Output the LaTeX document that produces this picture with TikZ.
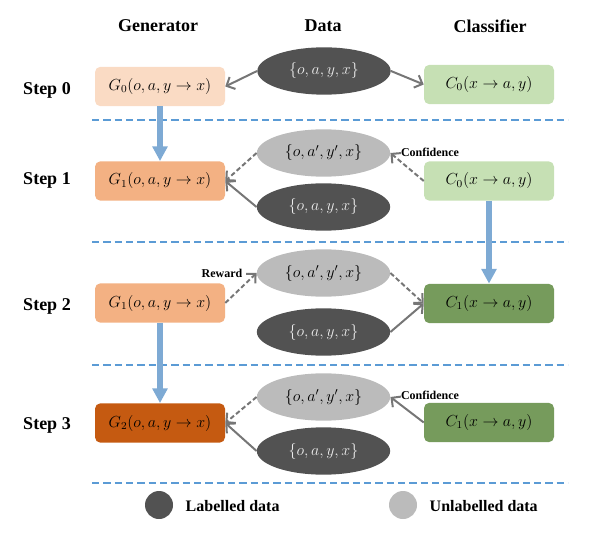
\documentclass[tikz,border=0pt]{standalone}
\usepackage{fontspec}
\setmainfont{Liberation Serif}
\usetikzlibrary{arrows.meta,shapes.geometric}
\definecolor{gzero}{RGB}{250,219,196}
\definecolor{gone}{RGB}{243,177,131}
\definecolor{gtwo}{RGB}{197,90,17}
\definecolor{czero}{RGB}{198,224,180}
\definecolor{cone}{RGB}{118,155,92}
\definecolor{labd}{RGB}{82,82,82}
\definecolor{unlab}{RGB}{187,187,187}
\definecolor{sepblue}{RGB}{91,155,213}
\definecolor{flowblue}{RGB}{126,170,212}
\definecolor{arrgray}{RGB}{118,118,118}
\begin{document}
\begin{tikzpicture}[x=0.75pt,y=-0.75pt,
  box/.style={rounded corners=4pt, minimum width=97.5pt, minimum height=29.5pt, inner sep=0pt, font=\fontsize{11.5}{13}\selectfont},
  ell/.style={ellipse, minimum width=100pt, minimum height=35.5pt, inner sep=0pt, font=\fontsize{11.5}{13}\selectfont},
  lab/.style={ell, fill=labd, text=white!92!black},
  unl/.style={ell, fill=unlab, text=black},
  head/.style={font=\fontsize{13.5}{15}\selectfont\bfseries},
  small/.style={font=\fontsize{9}{10}\selectfont\bfseries},
  sep/.style={sepblue, line width=1.5pt, dash pattern=on 5.5pt off 3pt},
  flow/.style={flowblue, line width=4.5pt, -{Triangle[width=11pt,length=11pt]}, shorten >=0pt},
  dat/.style={arrgray, line width=1.5pt, -{Straight Barb[length=5pt,width=10pt,line width=1.5pt]}},
  datd/.style={dat, dash pattern=on 3.5pt off 2pt}
]
\useasboundingbox (0,0) rectangle (598,548);
% headers
\node[head] (hg) at (158,26) {Generator};
\node[head] (hd) at (323,26) {Data};
\node[head] (hc) at (490,26) {Classifier};
\node[head] (s0) at (47,90) {Step 0};
\node[head] (s1) at (47,180) {Step 1};
\node[head] (s2) at (47,306) {Step 2};
\node[head] (s3) at (47,425) {Step 3};
% separators
\foreach \yy/\nm in {120/a,242/b,365/c,483/d}{
  \coordinate (sl\nm) at (92,\yy);
  \coordinate (sr\nm) at (568,\yy);
  \draw[sep] (sl\nm) -- (sr\nm);
}
% generator boxes
\node[box, fill=gzero] (g0) at (160,86.5) {$G_0(o,a,y\to x)$};
\node[box, fill=gone] (g1) at (160,181) {$G_1(o,a,y\to x)$};
\node[box, fill=gone] (g1b) at (160,303) {$G_1(o,a,y\to x)$};
\node[box, fill=gtwo] (g2) at (160,423) {$G_2(o,a,y\to x)$};
% classifier boxes
\node[box, fill=czero] (c0) at (489,84.5) {$C_0(x\to a,y)$};
\node[box, fill=czero] (c0b) at (489,181) {$C_0(x\to a,y)$};
\node[box, fill=cone] (c1) at (489,303.5) {$C_1(x\to a,y)$};
\node[box, fill=cone] (c1b) at (489,422.5) {$C_1(x\to a,y)$};
% data ellipses
\node[lab] (l0) at (324,71) {$\{o,a,y,x\}$};
\node[unl] (u1) at (323.5,153) {$\{o,a',y',x\}$};
\node[lab] (l1) at (323.5,207) {$\{o,a,y,x\}$};
\node[unl] (u2) at (323.5,273) {$\{o,a',y',x\}$};
\node[lab] (l2) at (323.5,332) {$\{o,a,y,x\}$};
\node[unl] (u3) at (323.5,397) {$\{o,a',y',x\}$};
\node[lab] (l3) at (323.5,451) {$\{o,a,y,x\}$};
% flow arrows
\draw[flow] (g0) -- (g1);
\draw[flow] (c0b) -- (c1);
\draw[flow] (g1b) -- (g2);
% data arrows
\draw[dat] (l0.west) -- (g0.east);
\draw[dat] (l0.east) -- (c0.west);
\draw[datd] (u1.west) -- (g1.east);
\draw[dat] (l1.west) -- (g1.east);
\draw[datd] (c0b.west) -- (u1.east);
\draw[datd] (g1b.east) -- (u2.west);
\draw[datd] (u2.east) -- (c1.west);
\draw[dat] (l2.east) -- (c1.west);
\draw[datd] (u3.west) -- (g2.east);
\draw[dat] (l3.west) -- (g2.east);
\draw[dat] (c1b.west) -- (u3.east);
% small labels
\node[small] (cf1) at (430,152) {Confidence};
\node[small] (rw) at (222,273) {Reward};
\node[small] (cf3) at (430,395) {Confidence};
% legend
\node[circle, fill=labd, minimum size=21pt, inner sep=0pt] (lgl) at (159,505) {};
\node[font=\fontsize{12}{14}\selectfont\bfseries, anchor=west] (lglt) at (181,506) {Labelled data};
\node[circle, fill=unlab, minimum size=21pt, inner sep=0pt] (lgu) at (403,505) {};
\node[font=\fontsize{12}{14}\selectfont\bfseries, anchor=west] (lgut) at (425,506) {Unlabelled data};
\end{tikzpicture}
\end{document}
